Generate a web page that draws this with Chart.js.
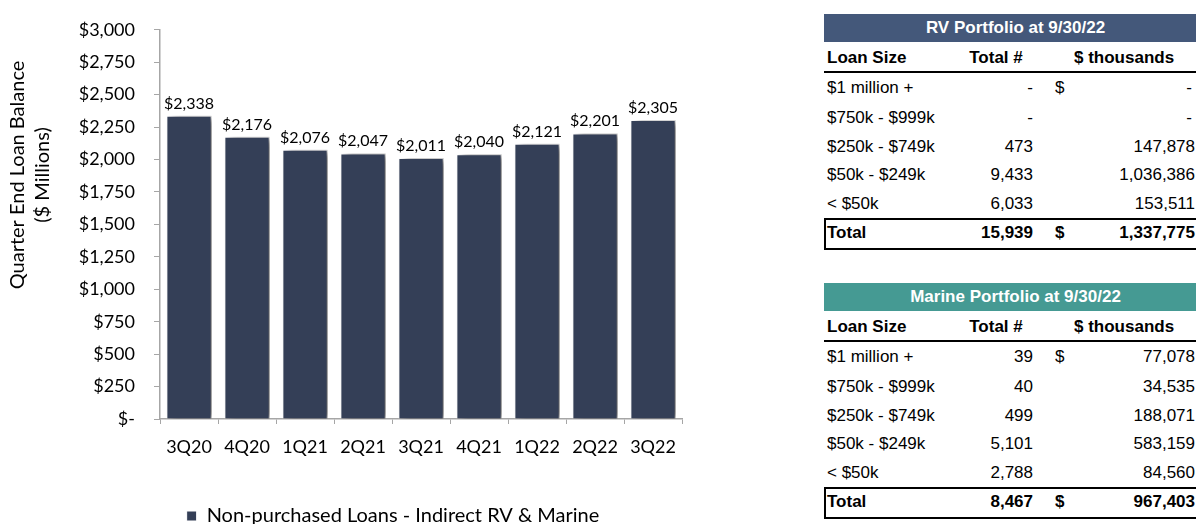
<!DOCTYPE html>
<html>
<head>
<meta charset="utf-8">
<script src="https://cdn.jsdelivr.net/npm/chart.js@4.4.0/dist/chart.umd.min.js"></script>
<style>
  html, body { margin: 0; padding: 0; background: #fff; overflow: hidden; width: 1196px; height: 524px; }
  #chartWrap { position: absolute; left: 0; top: 0; width: 786px; height: 524px; }
  .t { position: absolute; font-family: Arial, "Liberation Sans", sans-serif; font-size: 17px; color: #000; white-space: nowrap; line-height: 20px; }
  .b { font-weight: bold; }
  .bar { position: absolute; left: 824px; width: 383px; height: 28px; color: #fff; font-family: Arial, "Liberation Sans", sans-serif; font-weight: bold; font-size: 17px; line-height: 28px; text-align: center; }
  .rule { position: absolute; left: 824px; width: 383px; height: 2px; background: #000; }
  .box { position: absolute; left: 824px; width: 383px; border: 2px solid #000; box-sizing: border-box; }
</style>
</head>
<body>
<div id="chartWrap"><canvas id="c" width="786" height="524"></canvas></div>
<div id="tables"></div>
<script>
// ---- chart data ----
const categories = ['3Q20', '4Q20', '1Q21', '2Q21', '3Q21', '4Q21', '1Q22', '2Q22', '3Q22'];
const balances = [2338, 2176, 2076, 2047, 2011, 2040, 2121, 2201, 2305];
const seriesName = 'Non-purchased Loans - Indirect RV & Marine';
const yTitleLines = ['Quarter End Loan Balance', '($ Millions)'];
const yMin = 0, yMax = 3000, yStep = 250;

// ---- table data ----
const loanSizes = ['$1 million +', '$750k - $999k', '$250k - $749k', '$50k - $249k', '< $50k'];
const tableHeaders = ['Loan Size', 'Total #', '$ thousands'];
const rvTitle = 'RV Portfolio at 9/30/22';
const rvCounts = ['-', '-', '473', '9,433', '6,033'];
const rvAmounts = ['-', '-', '147,878', '1,036,386', '153,511'];
const rvTotal = ['Total', '15,939', '1,337,775'];
const marineTitle = 'Marine Portfolio at 9/30/22';
const marineCounts = ['39', '40', '499', '5,101', '2,788'];
const marineAmounts = ['77,078', '34,535', '188,071', '583,159', '84,560'];
const marineTotal = ['Total', '8,467', '967,403'];

function fmtMoney(v) {
  if (v === 0) return '$-';
  return '$' + v.toLocaleString('en-US');
}

// ---- tables ----
function el(cls, text, style) {
  const d = document.createElement('div');
  d.className = cls;
  d.textContent = text;
  Object.assign(d.style, style);
  document.getElementById('tables').appendChild(d);
  return d;
}
function buildTable(y0, title, color, counts, amounts, total) {
  el('bar', title, { top: (y0) + 'px', background: color });
  const hy = y0 + 44 - 10;
  el('t b', tableHeaders[0], { left: '827px', top: hy + 'px' });
  el('t b', tableHeaders[1], { left: '946px', width: '100px', textAlign: 'center', top: hy + 'px' });
  el('t b', tableHeaders[2], { left: '1074px', width: '100px', textAlign: 'center', top: hy + 'px' });
  el('rule', '', { top: (y0 + 57) + 'px' });
  const rowY = [74, 104, 133, 161, 190];
  for (let i = 0; i < loanSizes.length; i++) {
    const ty = y0 + rowY[i] - 10;
    el('t', loanSizes[i], { left: '827px', top: ty + 'px' });
    el('t', counts[i], { right: (1196 - 1033) + 'px', top: ty + 'px', textAlign: 'right' });
    if (i === 0) el('t', '$', { left: '1055px', top: ty + 'px' });
    const isDash = amounts[i] === '-';
    el('t', amounts[i], { right: (isDash ? 4 : 1) + 'px', top: ty + 'px', textAlign: 'right' });
  }
  el('box', '', { top: (y0 + 204) + 'px', height: '32px' });
  const ty = y0 + 219 - 10;
  el('t b', total[0], { left: '827px', top: ty + 'px' });
  el('t b', total[1], { right: (1196 - 1033) + 'px', top: ty + 'px' });
  el('t b', '$', { left: '1055px', top: ty + 'px' });
  el('t b', total[2], { right: '1px', top: ty + 'px' });
}
buildTable(14, rvTitle, '#44587A', rvCounts, rvAmounts, rvTotal);
buildTable(283, marineTitle, '#459A93', marineCounts, marineAmounts, marineTotal);

// ---- chart ----
const barShadow = {
  id: 'barShadow',
  beforeDatasetsDraw(chart) {
    const ctx = chart.ctx;
    ctx.save();
    ctx.shadowColor = 'rgba(0,0,0,0.6)';
    ctx.shadowBlur = 7;
    ctx.shadowOffsetX = 6;
    ctx.shadowOffsetY = 1;
  },
  afterDatasetsDraw(chart) {
    const ctx = chart.ctx;
    ctx.restore();
    ctx.save();
    ctx.font = '16px Lato';
    ctx.fillStyle = '#000';
    ctx.textAlign = 'center';
    ctx.textBaseline = 'alphabetic';
    const meta = chart.getDatasetMeta(0);
    meta.data.forEach((bar, i) => {
      ctx.fillText(fmtMoney(chart.data.datasets[0].data[i]), bar.x, bar.y - 7);
    });
    ctx.restore();
  }
};
const yTitlePlugin = {
  id: 'yTitle',
  afterDraw(chart) {
    const ctx = chart.ctx;
    ctx.save();
    ctx.font = '20px Lato';
    ctx.fillStyle = '#000';
    ctx.textAlign = 'center';
    ctx.textBaseline = 'middle';
    const xs = [18, 43];
    yTitleLines.forEach((line, i) => {
      ctx.save();
      ctx.translate(xs[i], 175);
      ctx.rotate(-Math.PI / 2);
      ctx.fillText(line, 0, 0);
      ctx.restore();
    });
    ctx.restore();
  }
};

function draw() {
  new Chart(document.getElementById('c'), {
    type: 'bar',
    data: {
      labels: categories,
      datasets: [{
        label: seriesName,
        data: balances,
        backgroundColor: '#343F57',
        borderColor: '#ffffff',
        borderWidth: 1,
        categoryPercentage: 1,
        barPercentage: 0.78
      }]
    },
    options: {
      responsive: false,
      animation: false,
      layout: { padding: { top: 24, right: 0, left: 0, bottom: -12 } },
      plugins: {
        legend: {
          position: 'bottom',
          labels: {
            boxWidth: 10, boxHeight: 10, padding: 0,
            color: '#000',
            font: { family: 'Lato', size: 20 }
          }
        },
        tooltip: { enabled: false }
      },
      scales: {
        x: {
          grid: { display: true, drawOnChartArea: false, offset: true, tickLength: 5, color: '#A6A6A6', lineWidth: 1 },
          border: { color: '#A6A6A6', width: 1.5 },
          ticks: { color: '#000', font: { family: 'Lato', size: 18 }, padding: 12, maxRotation: 0 },
          afterFit(scale) { scale.height = 87; }
        },
        y: {
          min: yMin, max: yMax,
          grid: { display: true, drawOnChartArea: false, tickLength: 6, color: '#A6A6A6', lineWidth: 1 },
          border: { color: '#A6A6A6', width: 1.5 },
          ticks: { stepSize: yStep, color: '#000', font: { family: 'Lato', size: 18 }, padding: 19,
                   callback: (v) => fmtMoney(v) },
          afterFit(scale) { scale.width = 160; }
        },
        spacer: {
          type: 'linear', position: 'right', display: true,
          grid: { display: false }, border: { display: false },
          ticks: { display: false },
          afterFit(scale) { scale.width = 104; }
        }
      }
    },
    plugins: [barShadow, yTitlePlugin]
  });
}
if (document.fonts && document.fonts.load) {
  Promise.all([document.fonts.load('18px Lato'), document.fonts.load('bold 17px Arial')]).then(draw, draw);
} else { draw(); }
</script>
</body>
</html>
